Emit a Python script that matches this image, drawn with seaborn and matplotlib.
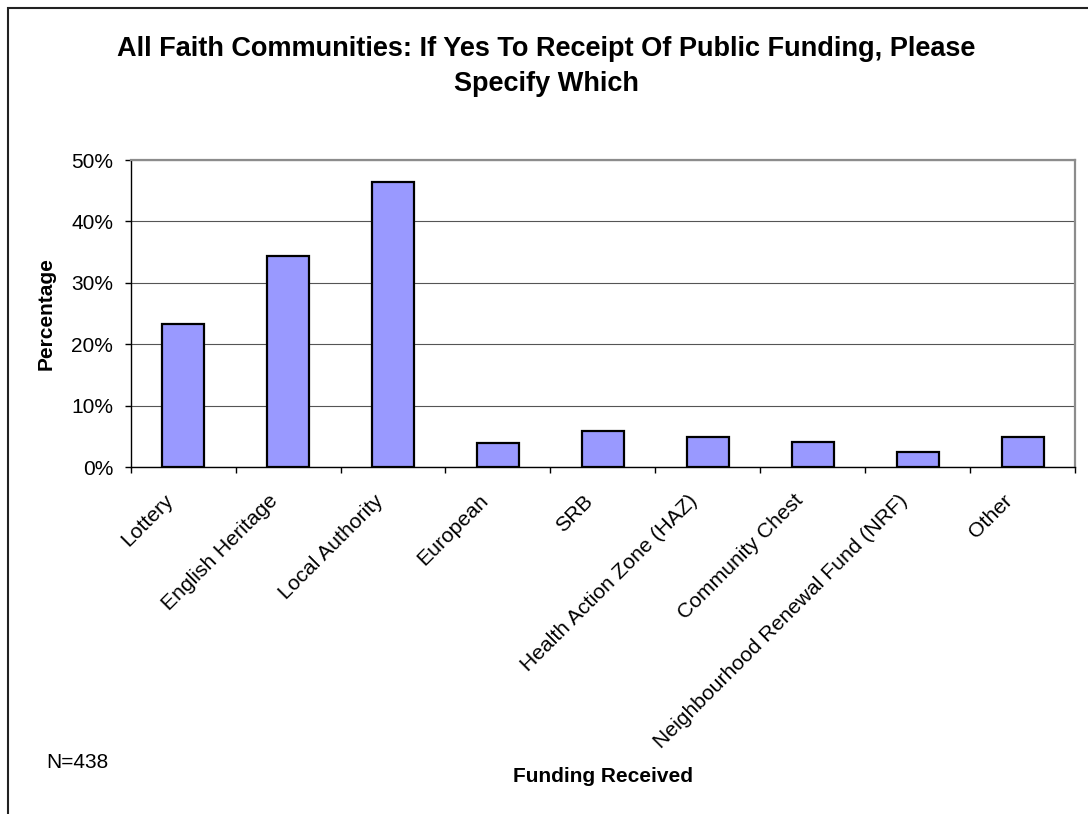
import matplotlib
matplotlib.use("Agg")
import matplotlib.pyplot as plt
import matplotlib.transforms as mtransforms
from matplotlib.patches import Rectangle
from matplotlib.ticker import FuncFormatter, FixedLocator
import seaborn as sns
import pandas as pd

# Funding sources and share of respondents (%)
categories = [
    "Lottery",
    "English Heritage",
    "Local Authority",
    "European",
    "SRB",
    "Health Action Zone (HAZ)",
    "Community Chest",
    "Neighbourhood Renewal Fund (NRF)",
    "Other",
]
percentages = [23.3, 34.4, 46.5, 3.9, 5.9, 5.0, 4.1, 2.5, 5.0]
y_ticks = [0, 10, 20, 30, 40, 50]

title = "All Faith Communities: If Yes To Receipt Of Public Funding, Please\nSpecify Which"
x_label = "Funding Received"
y_label = "Percentage"
sample_note = "N=438"

sns.set_style("white")
plt.rcParams["font.family"] = ["Liberation Sans", "DejaVu Sans"]
plt.rcParams.update({
    "text.color": "black",
    "axes.labelcolor": "black",
    "xtick.color": "black",
    "ytick.color": "black",
})

W, H = 1088, 814
fig = plt.figure(figsize=(W / 100, H / 100), dpi=100)
fig.patch.set_facecolor("white")

# plot area in pixel terms
left, right, top, bottom = 130.7, 1075.0, 160.0, 467.3
ax = fig.add_axes([left / W, 1 - bottom / H, (right - left) / W, (bottom - top) / H])

df = pd.DataFrame({"category": categories, "pct": percentages})
sns.barplot(
    data=df, x="category", y="pct", ax=ax,
    color="#9999FF", saturation=1, width=0.4,
    edgecolor="black", linewidth=1.6,
)

ax.set_xlim(-0.5, len(categories) - 0.5)
ax.set_ylim(0, 50)
ax.set_yticks(y_ticks)
ax.yaxis.set_major_formatter(FuncFormatter(lambda v, _: f"{v:.0f}%"))
ax.grid(axis="y", color="#555555", linewidth=0.8)
ax.set_axisbelow(True)

for side in ("top", "right"):
    ax.spines[side].set_color("#8c8c8c")
    ax.spines[side].set_linewidth(1.6)
for side in ("left", "bottom"):
    ax.spines[side].set_color("black")
    ax.spines[side].set_linewidth(1.0)

ax.tick_params(axis="y", which="major", direction="out", length=4.5, width=1,
               color="black", labelcolor="black", pad=8, labelsize=15, left=True)
# category separators as minor ticks, no major tick marks on x
ax.xaxis.set_minor_locator(FixedLocator([i - 0.5 for i in range(len(categories) + 1)]))
ax.tick_params(axis="x", which="minor", direction="out", length=4.5, width=1,
               color="black", bottom=True)
ax.tick_params(axis="x", which="major", length=0, pad=22, labelsize=15.2,
               labelcolor="black", bottom=True)

ax.set_xticks(range(len(categories)))
ax.set_xticklabels(categories, rotation=45, ha="right", va="center",
                   rotation_mode="anchor")
shift = mtransforms.ScaledTranslation(-13 / 100, 0, fig.dpi_scale_trans)
for lbl in ax.get_xticklabels():
    lbl.set_transform(lbl.get_transform() + shift)

ax.set_xlabel(x_label, fontsize=15, fontweight="bold", color="black")
ax.set_ylabel(y_label, fontsize=15, fontweight="bold", color="black")
ax.xaxis.set_label_coords(0.5, (bottom - 777) / (bottom - top))
ax.xaxis.label.set_va("center")
ax.yaxis.set_label_coords((46 - left) / (right - left), 0.5)
ax.yaxis.label.set_va("center")

fig.text(546 / W, 1 - 36 / H, title, ha="center", va="top", color="black",
         fontsize=19.5, fontweight="bold", linespacing=1.43)
fig.text(46 / W, 1 - 763 / H, sample_note, ha="left", va="center",
         fontsize=15, color="black")

# outer chart frame (runs off the right and bottom edges)
fig.patches.append(Rectangle((8 / W, -0.05), 1.2, 1 - 8 / H + 0.05,
                             transform=fig.transFigure, fill=False,
                             edgecolor="#222222", linewidth=1.5))

fig.savefig("out.png", dpi=100)
